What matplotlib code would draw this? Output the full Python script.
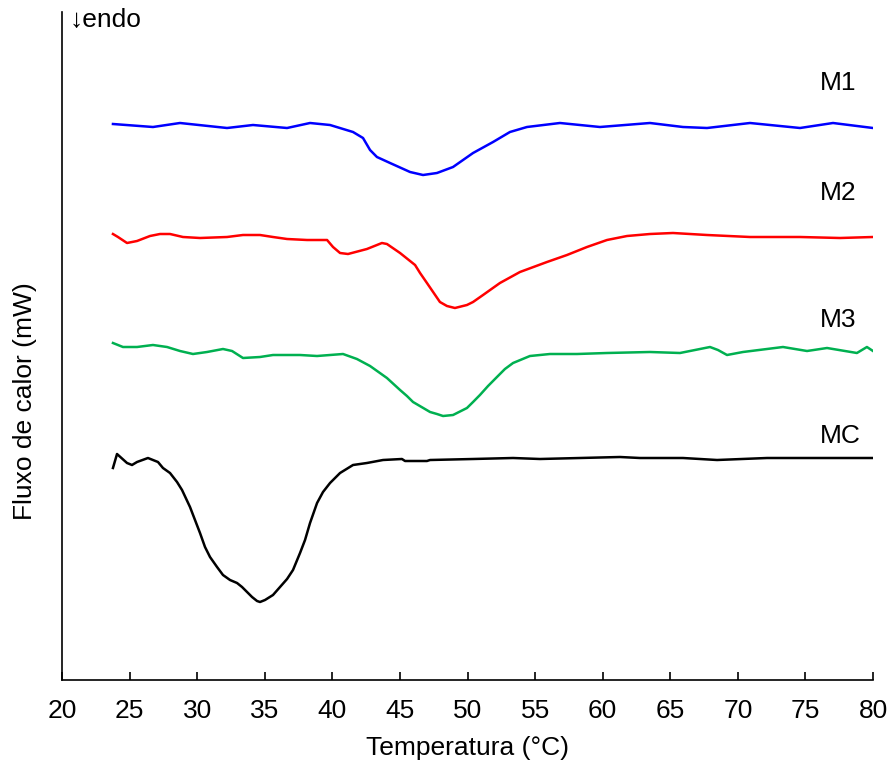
import matplotlib
matplotlib.use("Agg")
import matplotlib.pyplot as plt

plt.rcParams['font.family'] = ['Liberation Sans', 'DejaVu Sans']

# Temperature (°C) and heat flow (arbitrary units, curves offset)
m1_t = [23.77, 26.73, 28.73, 32.21, 34.13, 36.65, 38.35, 39.83, 41.53, 42.27, 42.79, 43.30, 44.27,
        45.75, 46.71, 47.74, 48.93, 50.41, 51.89, 53.14, 54.40, 56.84, 59.80, 63.50, 65.94, 67.72,
        70.90, 74.60, 77.04, 80.00]
m1_y = [5.56, 5.53, 5.57, 5.52, 5.55, 5.52, 5.57, 5.55, 5.48, 5.42, 5.30, 5.23, 5.17, 5.08, 5.05,
        5.07, 5.13, 5.27, 5.38, 5.48, 5.53, 5.57, 5.53, 5.57, 5.53, 5.52, 5.57, 5.52, 5.57, 5.52]

m2_t = [23.77, 24.14, 24.81, 25.55, 26.51, 27.25, 27.99, 28.95, 30.21, 32.21, 33.39, 34.65, 35.61,
        36.65, 38.13, 39.61, 40.05, 40.57, 41.16, 42.56, 43.67, 44.04, 45.01, 46.12, 46.49, 47.00,
        47.96, 48.48, 49.07, 49.96, 50.41, 51.15, 52.40, 53.88, 55.88, 57.36, 58.84, 60.32, 61.80,
        63.50, 65.20, 67.72, 70.90, 74.60, 77.56, 80.00]
m2_y = [4.46, 4.43, 4.37, 4.39, 4.44, 4.46, 4.46, 4.43, 4.42, 4.43, 4.45, 4.45, 4.43, 4.41, 4.40,
        4.40, 4.33, 4.27, 4.26, 4.31, 4.37, 4.36, 4.27, 4.15, 4.07, 3.97, 3.78, 3.74, 3.72, 3.75,
        3.78, 3.85, 3.97, 4.08, 4.18, 4.25, 4.33, 4.40, 4.44, 4.46, 4.47, 4.45, 4.43, 4.43, 4.42,
        4.43]

m3_t = [23.77, 24.51, 25.55, 26.73, 27.77, 28.73, 29.69, 30.73, 31.91, 32.58, 33.39, 34.65, 35.61,
        37.61, 38.87, 40.79, 41.82, 42.79, 44.04, 45.01, 45.52, 45.97, 47.23, 47.74, 48.19, 48.93,
        49.96, 50.41, 50.92, 51.52, 52.18, 52.77, 53.37, 54.62, 56.10, 58.10, 60.32, 63.50, 65.72,
        67.94, 68.53, 69.20, 70.38, 73.34, 75.12, 76.60, 78.81, 79.55, 80.00]
m3_y = [3.37, 3.33, 3.33, 3.35, 3.33, 3.29, 3.26, 3.28, 3.31, 3.29, 3.22, 3.23, 3.25, 3.25, 3.24,
        3.26, 3.21, 3.14, 3.02, 2.90, 2.84, 2.78, 2.68, 2.66, 2.64, 2.65, 2.72, 2.78, 2.85, 2.94,
        3.03, 3.11, 3.17, 3.24, 3.26, 3.26, 3.27, 3.28, 3.27, 3.33, 3.30, 3.25, 3.28, 3.33, 3.29,
        3.32, 3.27, 3.33, 3.29]

mc_t = [23.77, 24.07, 24.81, 25.18, 25.55, 26.36, 27.10, 27.47, 27.99, 28.51, 28.88, 29.47, 29.84,
        30.21, 30.58, 30.95, 31.47, 31.91, 32.43, 32.95, 33.32, 33.69, 34.06, 34.43, 34.65, 35.02,
        35.61, 36.13, 36.65, 37.09, 37.61, 37.98, 38.35, 38.87, 39.31, 39.83, 40.20, 40.57, 41.53,
        42.56, 43.75, 45.15, 45.38, 47.00, 47.23, 50.41, 53.37, 55.36, 61.28, 62.76, 65.94, 68.46,
        72.16, 75.86, 80.00]
mc_y = [2.12, 2.26, 2.17, 2.15, 2.18, 2.22, 2.18, 2.12, 2.07, 1.98, 1.90, 1.73, 1.60, 1.47, 1.33,
        1.23, 1.13, 1.05, 1.00, 0.97, 0.93, 0.88, 0.83, 0.79, 0.78, 0.80, 0.85, 0.93, 1.01, 1.10,
        1.27, 1.40, 1.57, 1.77, 1.88, 1.97, 2.02, 2.07, 2.15, 2.17, 2.20, 2.21, 2.19, 2.19, 2.20,
        2.21, 2.22, 2.21, 2.23, 2.22, 2.22, 2.20, 2.22, 2.22, 2.22]

labels = ["M1", "M2", "M3", "MC"]
label_t = [77.4, 77.4, 77.4, 77.6]
label_y = [5.97, 4.87, 3.60, 2.44]
colors = ["#0000ff", "#ff0000", "#00b050", "#000000"]

fig = plt.figure(figsize=(8.9, 7.67), dpi=100)
ax = fig.add_axes([62/890, 1-680/767, (873-62)/890, (680-12)/767])

series = [(m1_t, m1_y), (m2_t, m2_y), (m3_t, m3_y), (mc_t, mc_y)]
for (t, y), c in zip(series, colors):
    ax.plot(t, y, color=c, lw=1.8, solid_joinstyle='round')

for lab, tx, ty in zip(labels, label_t, label_y):
    ax.text(tx, ty, lab, ha='center', va='center', fontsize=19)

ax.set_xlim(20, 80)
ax.set_ylim(0, 6.68)
ax.set_xticks(range(20, 81, 5))
ax.set_yticks([])
ax.spines['top'].set_visible(False)
ax.spines['right'].set_visible(False)
ax.spines['left'].set_linewidth(1.2)
ax.spines['bottom'].set_linewidth(1.2)
ax.tick_params(axis='x', direction='in', length=6, width=1.2, labelsize=19, pad=14)

fig.text(468/890, 1-748/767, "Temperatura (°C)", ha='center', va='center', fontsize=19)
fig.text(25/890, 1-401/767, "Fluxo de calor (mW)", ha='center', va='center', rotation=90, fontsize=19)
fig.text(70/890, 1-20/767, "↓endo", ha='left', va='center', fontsize=19)

fig.savefig("out.png", dpi=100)
